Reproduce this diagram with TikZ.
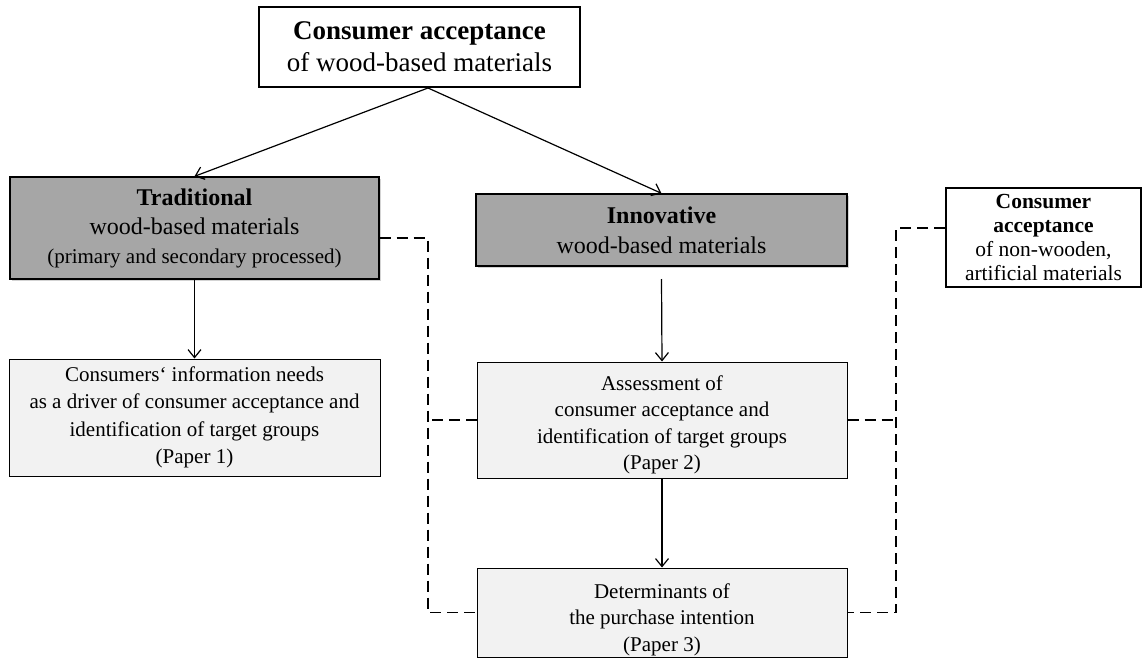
\documentclass[tikz,border=0pt]{standalone}
\usepackage{fontspec}
\setmainfont{Liberation Serif}
\usetikzlibrary{arrows.meta,shadows}

\definecolor{boxgray}{HTML}{A6A6A6}
\definecolor{boxlight}{HTML}{F2F2F2}

\tikzset{
  box/.style={draw=black, align=center, inner sep=0pt, text=black},
  keybox/.style={box, fill=white, line width=2pt},
  graybox/.style={box, fill=boxgray, line width=1.3pt,
    drop shadow={shadow xshift=2pt, shadow yshift=-2pt, opacity=0.35}},
  paperbox/.style={box, fill=boxlight, line width=1pt, font=\fontsize{21}{26.5}\selectfont},
  arr/.style={black, line width=1.2pt, -{Straight Barb[length=8pt,width=13pt]}},
  dashline/.style={black, line width=1.2pt, dash pattern=on 11pt off 6pt}
}

\begin{document}
\begin{tikzpicture}[x=1pt, y=-1pt]
\useasboundingbox (0,0) rectangle (1148,658);

\node [keybox, minimum width=321pt, minimum height=80pt, font=\fontsize{27}{32}\selectfont] (accept) at (419.5, 47)
  {\textbf{Consumer acceptance}\\of wood-based materials};
\node [graybox, minimum width=369pt, minimum height=102pt, font=\fontsize{24}{29}\selectfont] (trad) at (194.5, 228)
  {\textbf{Traditional}\\wood-based materials\\{\fontsize{21}{28}\selectfont (primary and secondary processed)}};
\node [graybox, minimum width=371pt, minimum height=72pt, font=\fontsize{24}{30}\selectfont] (innov) at (661.5, 230)
  {\textbf{Innovative}\\wood-based materials};
\node [keybox, minimum width=195pt, minimum height=99pt, font=\fontsize{21.5}{24}\selectfont] (other) at (1043.5, 237.5)
  {\textbf{Consumer}\\\textbf{acceptance}\\of non-wooden,\\artificial materials};

\node [paperbox, minimum width=371pt, minimum height=117pt, font=\fontsize{21}{27.5}\selectfont] (paper1) at (194.5, 417.5)
  {Consumers‘ information needs\\as a driver of consumer acceptance and\\identification of target groups\\(Paper 1)};
\node [paperbox, minimum width=370pt, minimum height=116pt] (paper2) at (662, 420)
  {\rule{0pt}{24pt}Assessment of\\consumer acceptance and\\identification of target groups\\(Paper 2)};
\node [paperbox, minimum width=370pt, minimum height=89pt] (paper3) at (662, 612.5)
  {\rule{0pt}{29pt}Determinants of\\the purchase intention\\(Paper 3)};

\coordinate (apex) at (428, 88);
\coordinate (innovout) at (661.5, 279);
\coordinate (lbot) at (428, 612.5);
\coordinate (rbot) at (896, 612.5);

\draw [arr] (apex) -- (trad.north);
\draw [arr] (apex) -- (innov.north);
\draw [arr] (trad.south) -- (paper1.north);
\draw [arr] (innovout) -- (paper2.north);
\draw [arr] (paper2.south) -- (paper3.north);

\draw [dashline] ([yshift=-10pt]trad.east) -| (lbot) -- (paper3.west);
\draw [dashline] (paper2.west) -- (paper2.west -| lbot);
\draw [dashline] ([yshift=9.5pt]other.west) -| (rbot) -- (paper3.east);
\draw [dashline] (paper2.east) -- (paper2.east -| rbot);
\end{tikzpicture}
\end{document}
